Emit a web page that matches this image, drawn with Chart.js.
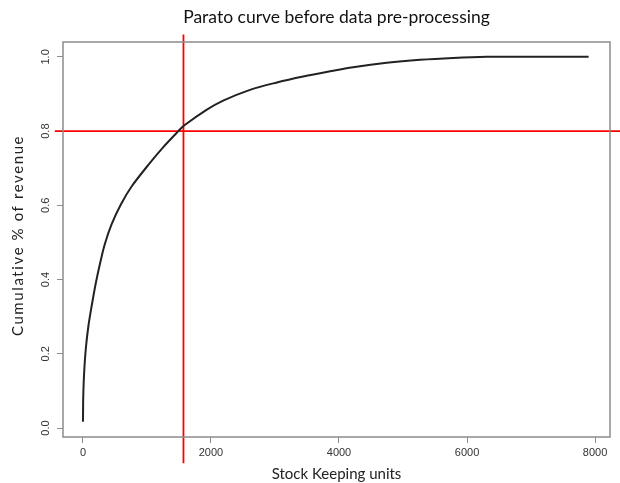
<!DOCTYPE html>
<html>
<head>
<meta charset="utf-8">
<script src="https://cdn.jsdelivr.net/npm/chart.js@4"></script>
<style>
  html, body { margin: 0; padding: 0; background: #fff; }
  #wrap { width: 620px; height: 483px; }
</style>
</head>
<body>
<div id="wrap"><canvas id="paretoChart" width="620" height="483"></canvas></div>
<script>
// values
const skuUnits = [0, 5, 20, 45, 85, 140, 200, 270, 344, 445, 594, 765, 1050, 1255, 1490, 1580, 1930, 2190, 2610, 3030, 3440, 3860, 4220, 4745, 5265, 5785, 6310, 6830, 7900];
const cumRevenue = [0.017, 0.09, 0.155, 0.215, 0.275, 0.333, 0.39, 0.446, 0.497, 0.548, 0.603, 0.652, 0.715, 0.757, 0.8, 0.815, 0.857, 0.882, 0.911, 0.931, 0.947, 0.961, 0.972, 0.984, 0.992, 0.997, 1.0, 1.0, 1.0];
const xTicks = [0, 2000, 4000, 6000, 8000];
const yTicks = [0.0, 0.2, 0.4, 0.6, 0.8, 1.0];
const cutoffSku = 1570;
const cutoffRevenue = 0.8;
const yTitle = 'Cumulative % of revenue';

const boxPlugin = {
  id: 'plotBox',
  afterDraw(chart) {
    const { ctx, chartArea } = chart;
    ctx.save();
    ctx.strokeStyle = '#8c8c8c';
    ctx.lineWidth = 1.5;
    ctx.strokeRect(chartArea.left, chartArea.top, chartArea.right - chartArea.left, chartArea.bottom - chartArea.top);
    // y axis title, a bit spaced out like the original
    ctx.translate(18, (chartArea.top + chartArea.bottom) / 2 - 4);
    ctx.rotate(-Math.PI / 2);
    ctx.font = '15px Lato';
    ctx.fillStyle = '#222';
    ctx.textAlign = 'center';
    ctx.textBaseline = 'middle';
    ctx.letterSpacing = '1.6px';
    ctx.fillText(yTitle, 0, 0);
    ctx.restore();
  }
};

const canvas = document.getElementById('paretoChart');
new Chart(canvas, {
  type: 'line',
  data: {
    datasets: [
      {
        label: 'Cumulative revenue',
        data: skuUnits.map((x, i) => ({ x: x, y: cumRevenue[i] })),
        borderColor: '#222',
        borderWidth: 2,
        pointRadius: 0,
        tension: 0.35
      },
      {
        label: '80% line',
        data: [{ x: -440, y: cutoffRevenue }, { x: 8400, y: cutoffRevenue }],
        borderColor: '#ff0000',
        borderWidth: 1.8,
        pointRadius: 0,
        clip: false
      },
      {
        label: 'cutoff',
        data: [{ x: cutoffSku, y: -0.095 }, { x: cutoffSku, y: 1.06 }],
        borderColor: '#ff0000',
        borderWidth: 1.8,
        pointRadius: 0,
        clip: false
      }
    ]
  },
  options: {
    responsive: false,
    animation: false,
    layout: { padding: { left: 0, right: 10, top: 0, bottom: 0 } },
    scales: {
      x: {
        type: 'linear',
        min: -312,
        max: 8234,
        afterBuildTicks: scale => { scale.ticks = xTicks.map(v => ({ value: v })); },
        afterFit: scale => { scale.height = 46; },
        grid: { display: true, drawOnChartArea: false, drawTicks: true, tickLength: 6, color: '#8c8c8c' },
        border: { display: false },
        ticks: { color: '#333', font: { family: 'Liberation Sans', size: 11 }, padding: 3, maxRotation: 0, callback: v => String(v) },
        title: { display: true, text: 'Stock Keeping units', color: '#222', font: { family: 'Lato', size: 15 }, padding: { top: 3, bottom: 0 } }
      },
      y: {
        min: -0.024,
        max: 1.04,
        afterBuildTicks: scale => { scale.ticks = yTicks.map(v => ({ value: v })); },
        afterFit: scale => { scale.width = 63; },
        grid: { display: true, drawOnChartArea: false, drawTicks: true, tickLength: 6, color: '#8c8c8c' },
        border: { display: false },
        ticks: {
          color: '#333',
          font: { family: 'Liberation Sans', size: 11 },
          minRotation: 90,
          maxRotation: 90,
          crossAlign: 'center',
          padding: 3,
          callback: v => v.toFixed(1)
        },
        title: { display: false }
      }
    },
    plugins: {
      legend: { display: false },
      tooltip: { enabled: false },
      title: {
        display: true,
        fullSize: false,
        text: 'Parato curve before data pre-processing',
        color: '#111',
        font: { family: 'Lato', size: 17.5, weight: 'normal' },
        padding: { top: 6.5, bottom: 14.5 }
      }
    }
  },
  plugins: [boxPlugin]
});
</script>
</body>
</html>
